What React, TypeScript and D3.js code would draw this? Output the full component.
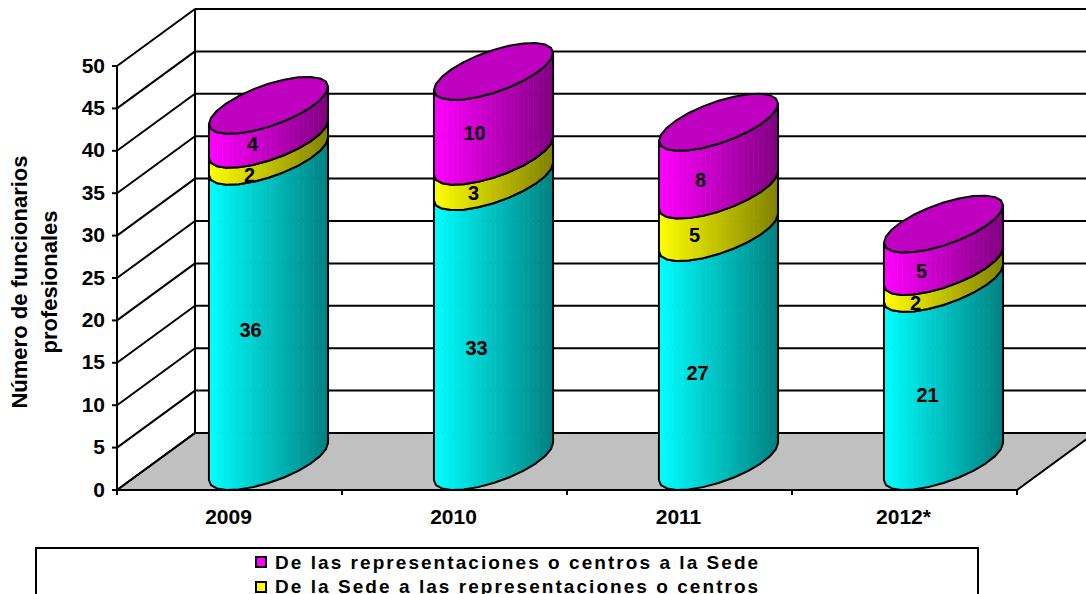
import React from "react";
import * as d3 from "d3";

const years = ["2009", "2010", "2011", "2012*"];
const toCentres = [36, 33, 27, 21];
const toOffices = [2, 3, 5, 2];
const toHeadquarters = [4, 10, 8, 5];
const yTicks = [0, 5, 10, 15, 20, 25, 30, 35, 40, 45, 50];
const axisTitle = ["Número de funcionarios", "profesionales"];
const legendNames = ["De las representaciones o centros a la Sede", "De la Sede a las representaciones o centros"];
const seriesColors = [
  ["#00ffff", "#008080"],
  ["#ffff00", "#808000"],
  ["#ff00ff", "#800080"],
];
const seriesValues = [toCentres, toOffices, toHeadquarters];

const W = 1086, H = 594;
const FONT = "'Liberation Sans', Arial, sans-serif";
const x0 = 117, x1 = 1017, y0 = 490, y50 = 66;
const depthX = 78, depthY = 57;
const y = d3.scaleLinear().domain([0, 50]).range([y0, y50]);
const x = d3.scaleBand().domain(years).range([x0, x1]);
const N = 24;
const STRIPS = 72;
const a = 45, b = depthX / 2, c = depthY / 2;
const phi = Math.atan2(b, a);
const R = Math.hypot(a, b);
const line = d3.line();
// hand placement of the value labels against the stack centre: [dx, dy] per column and series
const labelNudge = [
  [[1, -3], [0, 3], [3, -3]],
  [[2, 2], [-1, 0], [0, -5]],
  [[-2, 1], [-5, -1], [1, -1]],
  [[3, -2], [-9, 4], [-3, 1]],
];

function ring(cx: number, cy: number, n = N) {
  return d3.range(n).map((i) => {
    const t = phi + Math.PI + (i * 2 * Math.PI) / n;
    return [cx + a * Math.cos(t) + b * Math.sin(t), cy - c * Math.sin(t)] as [number, number];
  });
}

function Column({ year, index }: { year: string; index: number }) {
  const cx = (x(year) as number) + x.bandwidth() / 2 + depthX / 2;
  let acc = 0;
  const segs = seriesValues.map((vals, si) => {
    const lo = acc;
    acc += vals[index];
    return { si, lo, hi: acc, v: vals[index] };
  });
  const topRing = ring(cx, y(acc) - c);
  return (
    <g>
      {segs.map(({ si, lo, hi }) => {
        const bot = ring(cx, y(lo) - c);
        const top = ring(cx, y(hi) - c);
        const half = N / 2;
        const color = d3.interpolateRgb(seriesColors[si][0], seriesColors[si][1]);
        const frontBot = d3.range(half + 1).map((i) => bot[i]);
        const frontTop = d3.range(half + 1).map((i) => top[i]).reverse();
        const shape = line([...frontBot, ...frontTop]) + "Z";
        const clipId = `c${index}-${si}`;
        const stripW = (2 * R) / STRIPS;
        return (
          <g key={si}>
            <clipPath id={clipId}><path d={shape} /></clipPath>
            <g clipPath={`url(#${clipId})`}>
              {d3.range(STRIPS).map((i) => (
                <rect key={i} x={cx - R + i * stripW} width={stripW + 0.6} y={y(hi) - 2 * c - 2} height={y(lo) - y(hi) + 2 * c + 4} fill={color((i + 0.5) / STRIPS)} />
              ))}
            </g>
            <path d={shape} fill="none" stroke="#000" strokeWidth={2} strokeLinejoin="round" />
          </g>
        );
      })}
      <path d={line(topRing) + "Z"} fill="#c000c0" stroke="#000" strokeWidth={2} strokeLinejoin="round" />
      {segs.map(({ si, lo, hi, v }) => (
        <text key={si} x={cx - 19 + labelNudge[index][si][0]} y={y((lo + hi) / 2) - 4 + labelNudge[index][si][1]} dy="0.35em" textAnchor="middle" fontSize={20} fontWeight={700} fontFamily={FONT} fill="#000">
          {v}
        </text>
      ))}
    </g>
  );
}

export default function App() {
  return (
    <svg width={W} height={H} viewBox={`0 0 ${W} ${H}`} style={{ position: "fixed", left: 0, top: 0, background: "#fff" }}>
      <polygon points={`${x0},${y0} ${x0 + depthX},${y0 - depthY} ${x1 + depthX},${y0 - depthY} ${x1},${y0}`} fill="#c0c0c0" stroke="#000" strokeWidth={2} />
      {yTicks.map((t) => (
        <g key={t}>
          <line x1={x0 + depthX} x2={W} y1={y(t) - depthY} y2={y(t) - depthY} stroke="#000" strokeWidth={2} />
          <line x1={x0} x2={x0 + depthX} y1={y(t)} y2={y(t) - depthY} stroke="#000" strokeWidth={2} />
          <line x1={x0 - 5} x2={x0} y1={y(t)} y2={y(t)} stroke="#000" strokeWidth={2} />
          <text x={x0 - 12} y={y(t) - 1} dy="0.36em" textAnchor="end" fontSize={21} fontWeight={700} fontFamily={FONT} fill="#000">{t}</text>
        </g>
      ))}
      <line x1={x0} x2={x0} y1={y50} y2={y0} stroke="#000" strokeWidth={2} />
      <line x1={x0 + depthX} x2={x0 + depthX} y1={y50 - depthY} y2={y0 - depthY} stroke="#000" strokeWidth={2} />
      <line x1={x0} x2={x1} y1={y0} y2={y0} stroke="#000" strokeWidth={2} />
      {[...years.map((yr) => x(yr) as number), x1].map((px) => (
        <line key={px} x1={px} x2={px} y1={y0} y2={y0 + 5} stroke="#000" strokeWidth={2} />
      ))}
      {years.map((yr, i) => <Column key={yr} year={yr} index={i} />)}
      {years.map((yr) => (
        <text key={yr} x={(x(yr) as number) + x.bandwidth() / 2 - 1} y={524} textAnchor="middle" fontSize={21} fontWeight={700} fontFamily={FONT} fill="#000">{yr}</text>
      ))}
      {axisTitle.map((s, i) => (
        <text key={s} transform={`translate(${27 + i * 30},282) rotate(-90)`} textAnchor="middle" fontSize={22} fontWeight={700} fontFamily={FONT} fill="#000">{s}</text>
      ))}
      <rect x={36} y={548} width={942} height={80} fill="#fff" stroke="#000" strokeWidth={2} />
      {legendNames.map((s, i) => (
        <g key={s}>
          <rect x={256} y={557 + i * 25} width={10} height={10} fill={seriesColors[2 - i][0]} stroke="#000" strokeWidth={2} />
          <text x={275} y={569 + i * 24} fontSize={19} fontWeight={700} letterSpacing={2.05} fontFamily={FONT} fill="#000">{s}</text>
        </g>
      ))}
    </svg>
  );
}
